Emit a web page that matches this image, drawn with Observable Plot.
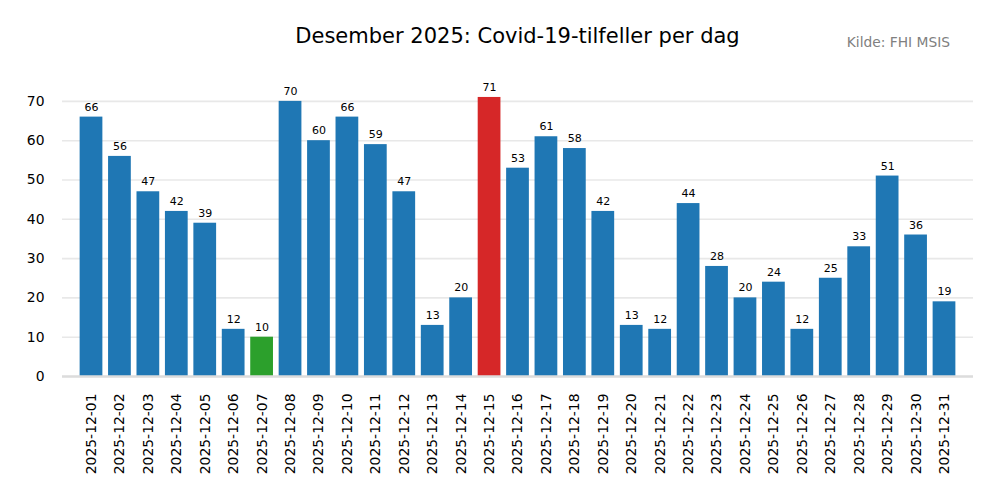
<!DOCTYPE html>
<html>
<head>
<meta charset="utf-8">
<script src="https://cdn.jsdelivr.net/npm/d3@7"></script>
<script src="https://cdn.jsdelivr.net/npm/@observablehq/plot@0.6"></script>
<style>
  html, body { margin: 0; padding: 0; background: #fff; }
  #wrap { position: relative; width: 1000px; height: 500px; font-family: "DejaVu Sans", sans-serif; }
  #title { position: absolute; left: 0; width: 1035px; top: 23px; text-align: center; font-size: 21px; color: #000; line-height: 26px; }
  #source { position: absolute; right: 50px; top: 34px; font-size: 13.8px; color: #808080; line-height: 17px; }
  #chart { position: absolute; left: 0; top: 60px; }
</style>
</head>
<body>
<div id="wrap">
  <div id="title">Desember 2025: Covid-19-tilfeller per dag</div>
  <div id="source">Kilde: FHI MSIS</div>
  <div id="chart"></div>
</div>
<script>
const dates = ["2025-12-01","2025-12-02","2025-12-03","2025-12-04","2025-12-05","2025-12-06","2025-12-07","2025-12-08","2025-12-09","2025-12-10","2025-12-11","2025-12-12","2025-12-13","2025-12-14","2025-12-15","2025-12-16","2025-12-17","2025-12-18","2025-12-19","2025-12-20","2025-12-21","2025-12-22","2025-12-23","2025-12-24","2025-12-25","2025-12-26","2025-12-27","2025-12-28","2025-12-29","2025-12-30","2025-12-31"];
const cases = [66,56,47,42,39,12,10,70,60,66,59,47,13,20,71,53,61,58,42,13,12,44,28,20,24,12,25,33,51,36,19];
const yTicks = [0,10,20,30,40,50,60,70];

const maxV = d3.max(cases), minV = d3.min(cases);
const data = dates.map((d, i) => ({date: d, value: cases[i]}));
const colorOf = v => v === maxV ? "#d62728" : v === minV ? "#2ca02c" : "#1f77b4";

const chart = Plot.plot({
  width: 1000,
  height: 440,
  marginLeft: 62,
  marginRight: 27,
  marginTop: 23,
  marginBottom: 124,
  style: {fontFamily: "DejaVu Sans, sans-serif", background: "#fff"},
  x: {domain: dates, paddingInner: 0.2, paddingOuter: 0.62, round: false, label: null},
  y: {domain: [0, 74.55], label: null},
  marks: [
    Plot.gridY(yTicks, {stroke: "#e8e8e8", strokeOpacity: 1, strokeWidth: 1.6}),
    Plot.barY(data, {x: "date", y: "value", fill: d => colorOf(d.value)}),
    Plot.ruleY([0], {stroke: "#dcdcdc", strokeWidth: 2.5}),
    Plot.text(data, {x: "date", y: "value", text: d => String(d.value), dy: -10, fontSize: 11, fill: "#000"}),
    Plot.axisX({tickSize: 0, tickPadding: 17, tickRotate: -90, fontSize: 13.9, fill: "#000", label: null}),
    Plot.axisY({ticks: yTicks, tickSize: 0, tickPadding: 18, fontSize: 13.9, fill: "#000", label: null})
  ]
});
document.getElementById("chart").appendChild(chart);
</script>
</body>
</html>
